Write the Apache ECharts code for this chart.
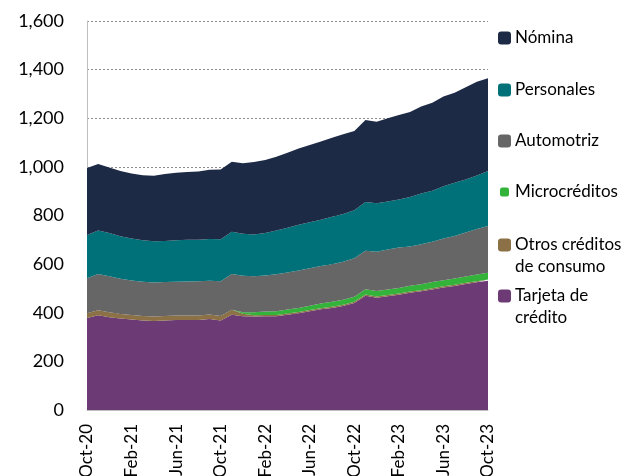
<!DOCTYPE html>
<html>
<head>
<meta charset="utf-8">
<script src="https://cdn.jsdelivr.net/npm/echarts@6/dist/echarts.min.js"></script>
<style>
  html, body { margin: 0; padding: 0; background: #fff; }
  #chart { width: 621px; height: 476px; }
</style>
</head>
<body>
<div id="chart"></div>
<script>
const months = ['Oct-20','Nov-20','Dec-20','Jan-21','Feb-21','Mar-21','Apr-21','May-21','Jun-21','Jul-21','Aug-21','Sep-21',
  'Oct-21','Nov-21','Dec-21','Jan-22','Feb-22','Mar-22','Apr-22','May-22','Jun-22','Jul-22','Aug-22','Sep-22',
  'Oct-22','Nov-22','Dec-22','Jan-23','Feb-23','Mar-23','Apr-23','May-23','Jun-23','Jul-23','Aug-23','Sep-23','Oct-23']

const tarjeta = [378,390,382,376,372,368,366,368,370,370,370,374,368,392,386,385,386,386,392,398,406,414,420,428,440,470,462,468,474,482,488,496,504,510,518,525,532]
const otros = [20,20,20,19,19,19,19,19,19,19,19,19,19,20,10,5,5,5,5,5,5,5,5,5,5,5,5,5,5,5,5,5,5,5,5,5,5]
const micro = [0,0,0,0,0,0,0,0,0,0,0,0,0,0,6,12,14,15,16,17,18,19,20,20,21,22,22,23,23,24,24,25,25,26,26,27,28]
const automotriz = [144,149,148,145,142,140,139,139,139,140,141,139,143,147,150,148,148,152,153,154,154,154,155,157,158,158,162,164,166,161,165,166,171,175,181,187,192]
const personales = [178,179,178,175,172,171,170,169,170,171,170,171,172,174,173,172,175,180,184,188,189,191,195,196,198,201,199,198,198,204,208,210,215,219,218,221,226]
const nomina = [275,274,269,268,268,268,270,276,278,279,281,285,287,288,290,298,300,304,308,314,318,321,325,328,326,337,336,342,347,350,358,362,369,370,379,385,382]

const font = 'Lato, "Noto Sans", sans-serif'

const chart = echarts.init(document.getElementById('chart'), null, { renderer: 'canvas' })

const mkSeries = (name, data, color) => ({
  name,
  type: 'line',
  stack: 'total',
  data,
  showSymbol: false,
  symbol: 'none',
  lineStyle: { width: 0 },
  areaStyle: { color, opacity: 1 },
  itemStyle: { color },
  emphasis: { disabled: true },
})

// one legend per item; two-line labels get an empty first line so the icon sits on the real first line
const legendItem = (name, center, opts = {}) => {
  const size = opts.size || 13
  const twoLines = name.includes('\n')
  return {
    data: [name],
    orient: 'vertical',
    padding: 0,
    left: 498 + (13 - size) / 2,
    top: center - (twoLines ? 33 : 11),
    itemWidth: size,
    itemHeight: size,
    itemGap: 0,
    icon: 'roundRect',
    selectedMode: false,
    formatter: n => (twoLines ? '\n' + n : n),
    textStyle: {
      fontFamily: font, fontSize: 17, color: '#000', lineHeight: 22,
      padding: [0, 0, 0, -1 + (13 - size) / 2],
    },
  }
}

chart.setOption({
  animation: false,
  backgroundColor: '#fff',
  grid: { left: 87, right: 133, top: 21, bottom: 66, outerBoundsMode: 'none' },
  legend: [
    legendItem('Nómina', 38),
    legendItem('Personales', 90),
    legendItem('Automotriz', 141),
    legendItem('Microcréditos', 192, { size: 9 }),
    legendItem('Otros créditos\nde consumo', 245),
    legendItem('Tarjeta de\ncrédito', 296),
  ],
  xAxis: {
    type: 'category',
    data: months,
    boundaryGap: false,
    axisLine: { lineStyle: { color: '#bfbfbf' } },
    axisTick: { show: false },
    axisLabel: {
      interval: 3,
      rotate: 90,
      margin: 14,
      fontFamily: font,
      fontSize: 17,
      color: '#000',
    },
  },
  yAxis: {
    type: 'value',
    min: 0,
    max: 1600,
    interval: 200,
    axisLine: { show: true, lineStyle: { color: '#bfbfbf' } },
    axisTick: { show: false },
    axisLabel: {
      margin: 23,
      fontFamily: font,
      fontSize: 18,
      color: '#000',
      formatter: v => v.toLocaleString('en-US'),
    },
    splitLine: { lineStyle: { color: '#8c8c8c', type: [2, 2], width: 1 } },
  },
  series: [
    mkSeries('Tarjeta de\ncrédito', tarjeta, '#6c3a75'),
    mkSeries('Otros créditos\nde consumo', otros, '#8b7145'),
    mkSeries('Microcréditos', micro, '#33b33a'),
    mkSeries('Automotriz', automotriz, '#666666'),
    mkSeries('Personales', personales, '#007178'),
    mkSeries('Nómina', nomina, '#1d2a45'),
  ],
})
</script>
</body>
</html>
